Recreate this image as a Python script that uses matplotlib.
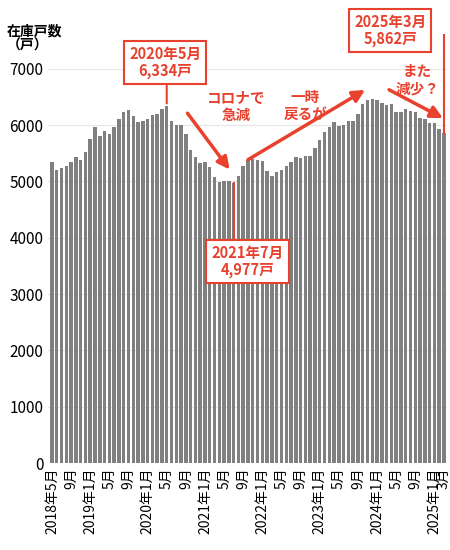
import matplotlib
matplotlib.use("Agg")
import matplotlib.pyplot as plt
import numpy as np

plt.rcParams['font.family'] = ['Noto Sans CJK JP', 'DejaVu Sans']

values = [5350,5200,5230,5275,5350,5430,5380,5530,5760,5960,5810,5890,5850,5970,6110,6230,6270,6170,6060,6065,6110,6180,6200,6290,6334,
          6080,6005,6000,5850,5550,5430,5330,5340,5250,5070,4990,5000,5010,4977,
          5100,5265,5375,5390,5380,5365,5190,5100,5160,5200,5280,5350,5430,5410,5450,5450,5600,5730,5885,5960,6060,5990,6000,6075,6075,6200,6375,6445,6460,6445,6395,6360,6375,6230,6240,6280,6250,6230,6130,6115,6045,6030,5925,5862]
start_year, start_month = 2018, 5
labels = []
for i in range(len(values)):
    m = (start_month - 1 + i) % 12 + 1
    y = start_year + (start_month - 1 + i) // 12
    if i == 0 or m == 1:
        labels.append(f"{y}年{m}月")
    elif m in (5, 9) or i == len(values) - 1:
        labels.append(f"{m}月")
    else:
        labels.append(None)

red = '#e8412e'
fig = plt.figure(figsize=(4.5, 5.5), dpi=100)
ax = fig.add_axes([0.107, 0.158, 0.886, 0.717])
x = np.arange(len(values))
ax.bar(x, values, width=0.72, color='#808080', zorder=2)
ax.set_ylim(0, 7000)
ax.set_xlim(-0.8, len(values) - 0.4)
ax.set_yticks(range(0, 7001, 1000))
ax.tick_params(axis='y', labelsize=11, length=0)
ax.grid(axis='y', color='#e6e6e6', lw=0.8, zorder=0)
tk = [i for i, l in enumerate(labels) if l]
ax.set_xticks(tk)
ax.set_xticklabels([labels[i] for i in tk], rotation=90, fontsize=10)
ax.tick_params(axis='x', length=0, pad=3)
for s in ax.spines.values():
    s.set_visible(False)
fig.text(0.015, 0.955, "在庫戸数\n（戸）", fontsize=10, fontweight='bold', va='top', linespacing=1.0)

def box(xf, yf, txt):
    fig.text(xf, yf, txt, fontsize=10.5, fontweight='bold', color=red, ha='center', va='center',
             linespacing=1.05, bbox=dict(boxstyle='square,pad=0.35', fc='white', ec=red, lw=1.5), zorder=10)

i1 = 24; i2 = 38; i3 = len(values) - 1
ax.annotate('', xy=(i1, values[i1]), xytext=(i1, 6900), arrowprops=dict(arrowstyle='-', color=red, lw=1.5), annotation_clip=False)
box(0.367, 0.887, "2020年5月\n6,334戸")
ax.plot([i2, i2], [values[i2], 4000], color=red, lw=1.5, zorder=3)
box(0.55, 0.525, "2021年7月\n4,977戸")
ax.plot([i3 + 0.1, i3 + 0.1], [values[i3], 7600], color=red, lw=1.5, zorder=3, clip_on=False)
box(0.867, 0.945, "2025年3月\n5,862戸")

kw = dict(fontsize=10.5, fontweight='bold', color=red, ha='center', va='center', linespacing=1.1)
ax.text(38.5, 6330, "コロナで\n急減", **kw)
ax.annotate('', xy=(37.5, 5170), xytext=(28, 6250), arrowprops=dict(arrowstyle='-|>', color=red, lw=2.5, mutation_scale=18))
ax.text(53, 6350, "一時\n戻るが", **kw)
ax.annotate('', xy=(66, 6650), xytext=(40.5, 5360), arrowprops=dict(arrowstyle='-|>', color=red, lw=2.5, mutation_scale=18))
ax.text(76.5, 6800, "また\n減少？", **kw)
ax.annotate('', xy=(82.3, 6100), xytext=(70, 6650), arrowprops=dict(arrowstyle='-|>', color=red, lw=2.5, mutation_scale=18))

fig.savefig("out.png", dpi=100)
